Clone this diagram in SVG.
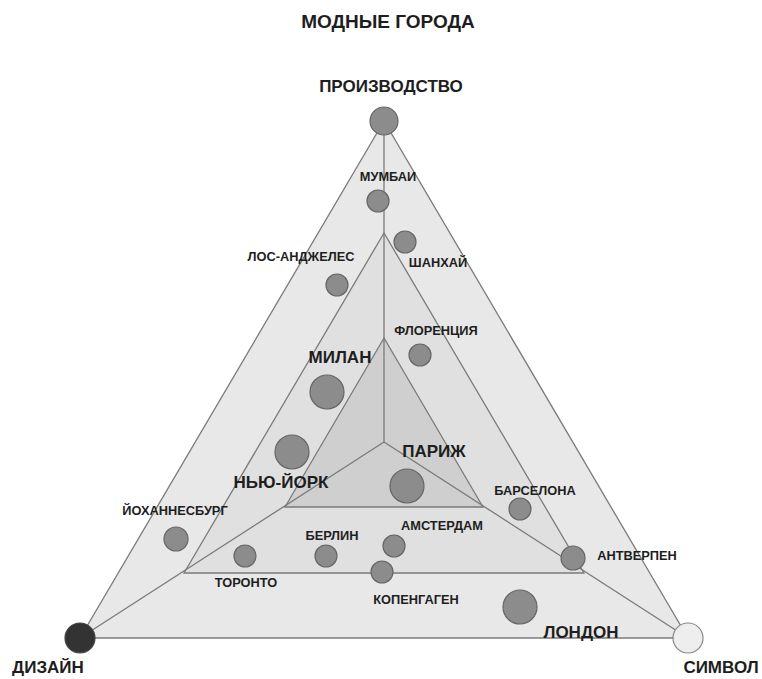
<svg xmlns="http://www.w3.org/2000/svg" width="762" height="679" viewBox="0 0 762 679">
<style>
text{font-family:"Liberation Sans",Arial,sans-serif;font-weight:bold;fill:#1e1e1e;text-anchor:middle}
.s{font-size:12.8px}
.m{font-size:17px}
.l{font-size:17px}
.t{font-size:19px}
.tri{stroke:#7a7a7a;stroke-width:1.3}
.ln{stroke:#7a7a7a;stroke-width:1.3;fill:none}
.c{fill:#8c8c8c;stroke:#666;stroke-width:1.2}
</style>
<rect width="762" height="679" fill="#fff"/>
<text class="t" x="388" y="28">МОДНЫЕ ГОРОДА</text>
<g id="triangles">
<polygon class="tri" points="384,121 80,638 688,638" fill="#e8e8e8"/>
<polygon class="tri" points="384,233 184,573 584,573" fill="#e0e0e0"/>
<polygon class="tri" points="384,338 285,507 483,507" fill="#cfcfcf"/>
</g>
<g id="connectors">
<line class="ln" x1="384" y1="121" x2="384" y2="442"/>
<line class="ln" x1="384" y1="442" x2="80" y2="638"/>
<line class="ln" x1="384" y1="442" x2="688" y2="638"/>
</g>
<g id="production"><circle class="c" cx="384" cy="121" r="14"/><text class="m" x="391" y="92">ПРОИЗВОДСТВО</text></g>
<g id="design"><circle cx="80" cy="638" r="15" fill="#333" stroke="#444" stroke-width="1.2"/><text class="m" x="48" y="673">ДИЗАЙН</text></g>
<g id="symbol"><circle cx="688" cy="638" r="15" fill="#eeeeee" stroke="#888" stroke-width="1.2"/><text class="m" x="721" y="673">СИМВОЛ</text></g>
<g id="mumbai"><circle class="c" cx="378" cy="201" r="11"/><text class="s" x="388" y="181">МУМБАИ</text></g>
<g id="shanghai"><circle class="c" cx="405" cy="242" r="11"/><text class="s" x="438" y="267">ШАНХАЙ</text></g>
<g id="losangeles"><circle class="c" cx="337" cy="285" r="11"/><text class="s" x="301" y="261">ЛОС-АНДЖЕЛЕС</text></g>
<g id="florence"><circle class="c" cx="420" cy="355" r="11"/><text class="s" x="436" y="335">ФЛОРЕНЦИЯ</text></g>
<g id="milan"><circle class="c" cx="327" cy="392" r="17"/><text class="l" x="340" y="363">МИЛАН</text></g>
<g id="newyork"><circle class="c" cx="292" cy="452" r="17"/><text class="l" x="281" y="488">НЬЮ-ЙОРК</text></g>
<g id="paris"><circle class="c" cx="407" cy="486" r="17"/><text class="l" x="434" y="457">ПАРИЖ</text></g>
<g id="johannesburg"><circle class="c" cx="176" cy="539" r="12"/><text class="s" x="175" y="515">ЙОХАННЕСБУРГ</text></g>
<g id="toronto"><circle class="c" cx="245" cy="556" r="11"/><text class="s" x="246" y="587">ТОРОНТО</text></g>
<g id="berlin"><circle class="c" cx="326" cy="556" r="11"/><text class="s" x="332" y="540">БЕРЛИН</text></g>
<g id="amsterdam"><circle class="c" cx="394" cy="546" r="11"/><text class="s" x="442" y="530">АМСТЕРДАМ</text></g>
<g id="copenhagen"><circle class="c" cx="382" cy="572" r="11"/><text class="s" x="416" y="604">КОПЕНГАГЕН</text></g>
<g id="barcelona"><circle class="c" cx="520" cy="509" r="11"/><text class="s" x="535" y="495">БАРСЕЛОНА</text></g>
<g id="antwerp"><circle class="c" cx="573" cy="558" r="12"/><text class="s" x="637" y="560">АНТВЕРПЕН</text></g>
<g id="london"><circle class="c" cx="520" cy="607" r="17"/><text class="l" x="581" y="638">ЛОНДОН</text></g>
</svg>
